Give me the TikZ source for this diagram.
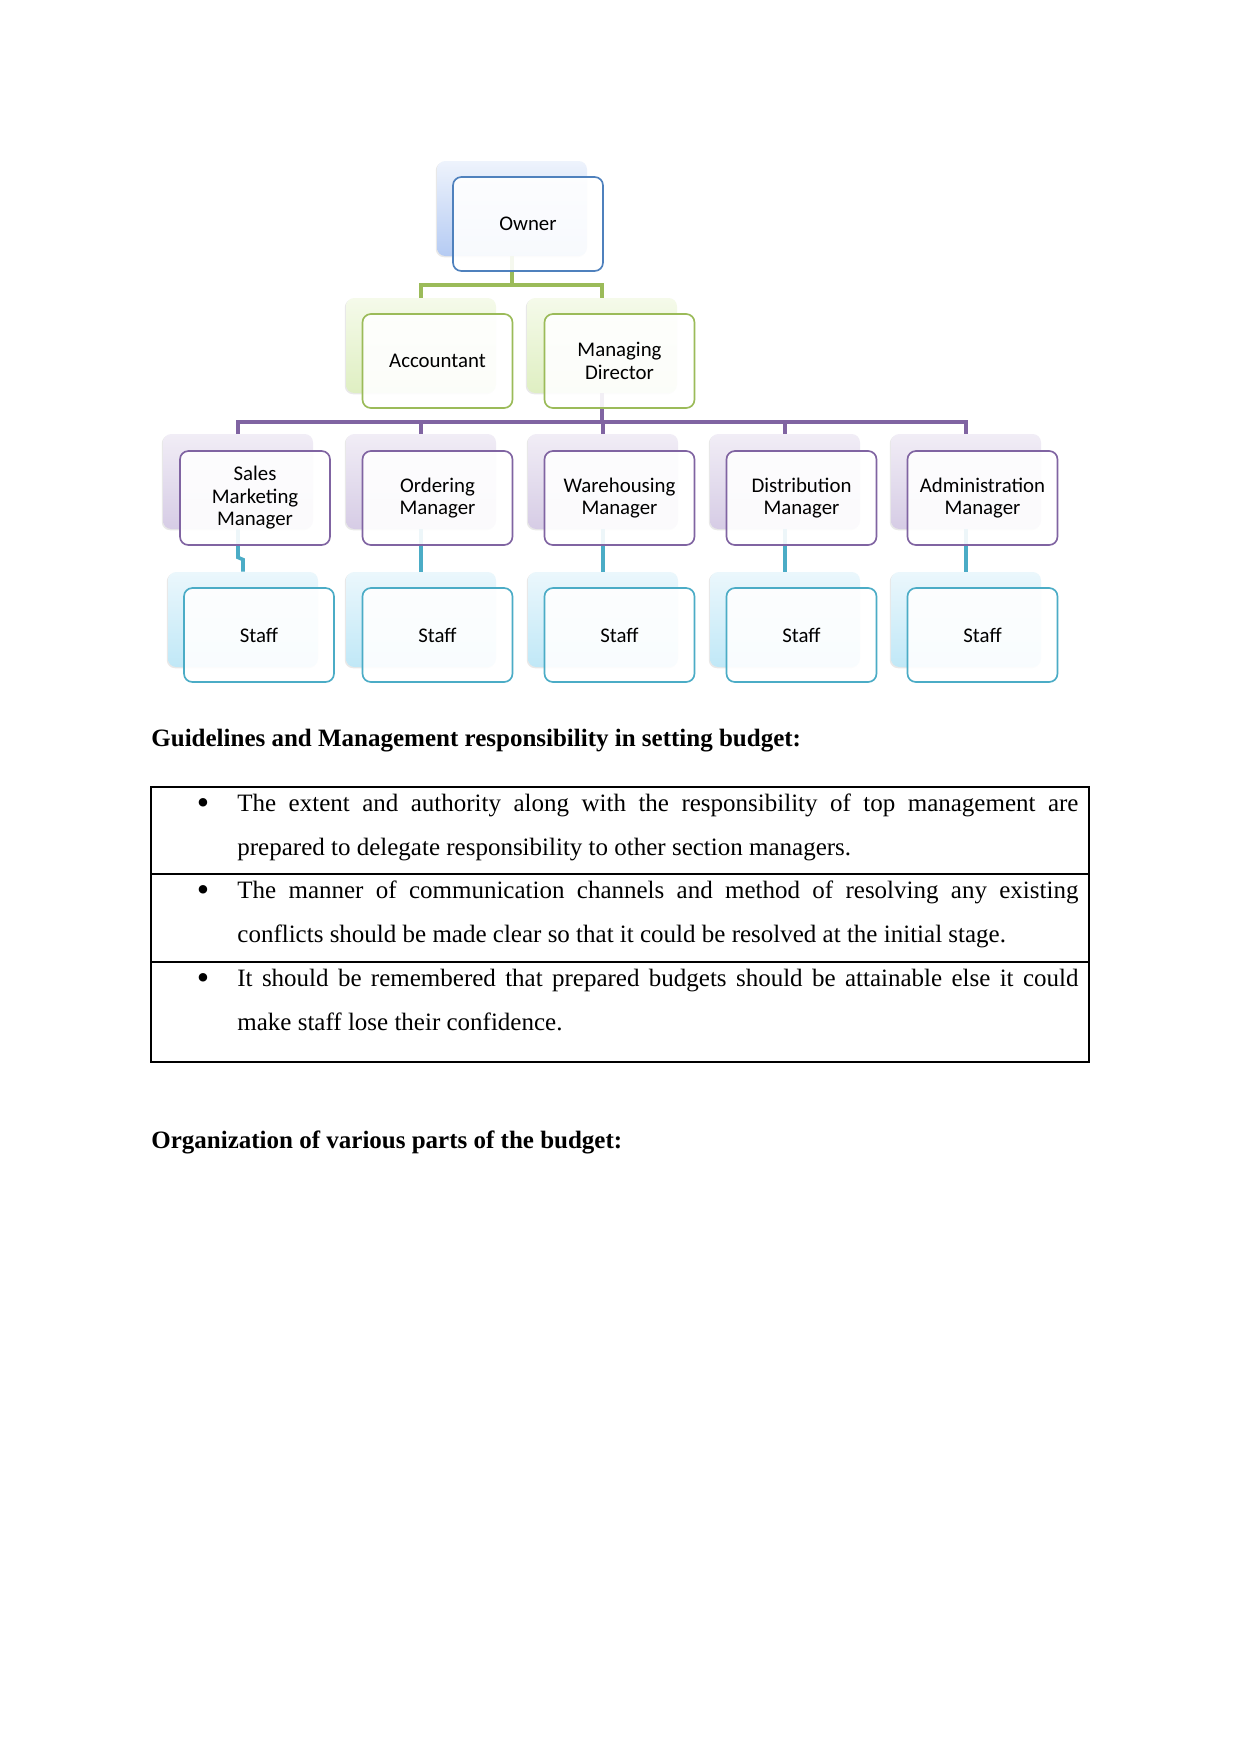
\documentclass[tikz,border=0pt]{standalone}
\usepackage{fontspec}
\setmainfont{Liberation Serif}
\newfontfamily\calib{Carlito}
\usetikzlibrary{shadows,calc}
\definecolor{cBlue}{HTML}{4F81BD}
\definecolor{cGreen}{HTML}{9BBB59}
\definecolor{cPurple}{HTML}{8064A2}
\definecolor{cTeal}{HTML}{4BACC6}
\definecolor{bTop}{HTML}{EEF3FC}
\definecolor{bBot}{HTML}{B5CBF3}
\definecolor{gTop}{HTML}{F5FAEA}
\definecolor{gBot}{HTML}{DFEFC2}
\definecolor{pTop}{HTML}{F1EDF6}
\definecolor{pBot}{HTML}{D6CCE5}
\definecolor{tTop}{HTML}{EBF7FC}
\definecolor{tBot}{HTML}{C0E8F7}
\begin{document}
\begin{tikzpicture}[x=0.48pt,y=-0.48pt,
  backbox/.style={rounded corners=4pt, minimum width=72pt, minimum height=45.6pt, inner sep=0pt,
    drop shadow={shadow xshift=-0.6pt, shadow yshift=-0.6pt, opacity=0.18}},
  bluebk/.style={backbox, top color=bTop, bottom color=bBot},
  greenbk/.style={backbox, top color=gTop, bottom color=gBot},
  purplebk/.style={backbox, top color=pTop, bottom color=pBot},
  tealbk/.style={backbox, top color=tTop, bottom color=tBot},
  frontbox/.style={rounded corners=4pt, minimum width=72pt, minimum height=45.1pt, fill=white,
    fill opacity=0.9, text opacity=1, line width=0.8pt, align=center, inner sep=2pt,
    font=\calib\fontsize{10}{10.8}\selectfont},
  bluefr/.style={frontbox, draw=cBlue},
  greenfr/.style={frontbox, draw=cGreen},
  purplefr/.style={frontbox, draw=cPurple},
  tealfr/.style={frontbox, draw=cTeal},
  conn/.style={line width=1.7pt},
  bodytext/.style={anchor=base west, inner sep=0pt, font=\fontsize{12}{14}\selectfont},
  bullettext/.style={anchor=base, inner sep=0pt, font=\fontsize{17}{17}\selectfont},
  headtext/.style={anchor=base west, inner sep=0pt, font=\bfseries\fontsize{12}{14}\selectfont}
]
\fill[white] (0,0) rectangle (1241,1754);
\useasboundingbox (0,0) rectangle (1241,1754);

% back boxes
\node[bluebk] (ownerS) at (512,208.5) {};
\node[greenbk] (accS) at (421,345.5) {};
\node[greenbk] (mdS) at (602,345.5) {};
\node[purplebk] (m1S) at (238,481.5) {};
\node[purplebk] (m2S) at (421,481.5) {};
\node[purplebk] (m3S) at (603,481.5) {};
\node[purplebk] (m4S) at (785,481.5) {};
\node[purplebk] (m5S) at (966,481.5) {};
\node[tealbk] (s1S) at (243,619.5) {};
\node[tealbk] (s2S) at (421,619.5) {};
\node[tealbk] (s3S) at (603,619.5) {};
\node[tealbk] (s4S) at (785,619.5) {};
\node[tealbk] (s5S) at (966,619.5) {};

% connectors
\coordinate (g) at (512,285);
\coordinate (p) at (603,422);
\draw[conn, cGreen] (ownerS.south) -- (g);
\draw[conn, cGreen] (accS.north) |- (g) -| (mdS.north);
\draw[conn, cPurple] (mdS.south) -- (mdS.south |- p);
\draw[conn, cPurple] (m1S.north) |- (p) -| (m5S.north);
\draw[conn, cPurple] (m2S.north) -- (m2S.north |- p);
\draw[conn, cPurple] (m3S.north) -- (m3S.north |- p);
\draw[conn, cPurple] (m4S.north) -- (m4S.north |- p);
\draw[conn, cTeal] (m1S.south) -- ($(m1S.south)+(0,28)$) -- ($(s1S.north)+(0,-12)$) -- (s1S.north);
\draw[conn, cTeal] (m2S.south) -- (s2S.north);
\draw[conn, cTeal] (m3S.south) -- (s3S.north);
\draw[conn, cTeal] (m4S.south) -- (s4S.north);
\draw[conn, cTeal] (m5S.south) -- (s5S.north);

% front boxes
\node[bluefr] (owner) at (528,224) {Owner};
\node[greenfr] (acc) at (437.5,361) {Accountant};
\node[greenfr] (md) at (619.5,361) {Managing\\Director};
\node[purplefr] (m1) at (255,498) {Sales\\Marketing\\Manager};
\node[purplefr] (m2) at (437.5,498) {Ordering\\Manager};
\node[purplefr] (m3) at (619.5,498) {Warehousing\\Manager};
\node[purplefr] (m4) at (801.5,498) {Distribution\\Manager};
\node[purplefr] (m5) at (982.5,498) {Administration\\Manager};
\node[tealfr] (s1) at (259,635) {Staff};
\node[tealfr] (s2) at (437.5,635) {Staff};
\node[tealfr] (s3) at (619.5,635) {Staff};
\node[tealfr] (s4) at (801.5,635) {Staff};
\node[tealfr] (s5) at (982.5,635) {Staff};

% headings
\node[headtext] (h1) at (151,746) {Guidelines and Management responsibility in setting budget:};
\node[headtext] (h2) at (151,1148) {Organization of various parts of the budget:};

% table
\draw[line width=0.5pt] (151,787) rectangle (1089,1062);
\draw[line width=0.5pt] (151,874) -- (1089,874);
\draw[line width=0.5pt] (151,962) -- (1089,962);
\draw[line width=1.1pt] (151,1062) -- (1089,1062);

\node[bullettext] (b1) at (203,814) {•};
\node[bullettext] (b2) at (203,901) {•};
\node[bullettext] (b3) at (203,989) {•};
\node[bodytext] (t1a) at (237,811) {\makebox[403.7pt][s]{The extent and authority along with the responsibility of top management are}};
\node[bodytext] (t1b) at (237,855) {prepared to delegate responsibility to other section managers.};
\node[bodytext] (t2a) at (237,898) {\makebox[403.7pt][s]{The manner of communication channels and method of resolving any existing}};
\node[bodytext] (t2b) at (237,942) {conflicts should be made clear so that it could be resolved at the initial stage.};
\node[bodytext] (t3a) at (237,986) {\makebox[403.7pt][s]{It should be remembered that prepared budgets should be attainable else it could}};
\node[bodytext] (t3b) at (237,1030) {make staff lose their confidence.};
\end{tikzpicture}
\end{document}
